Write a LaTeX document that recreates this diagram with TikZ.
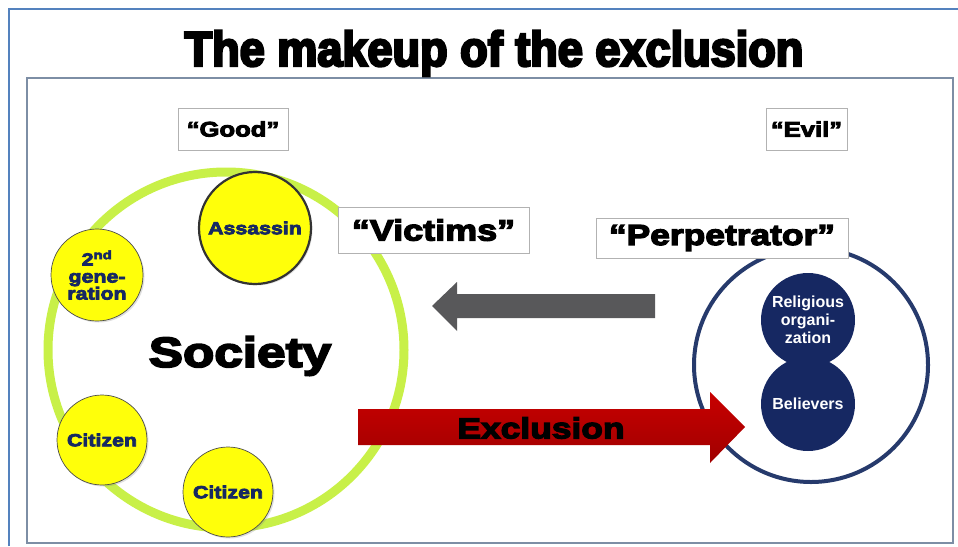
\documentclass[tikz,border=0pt]{standalone}
\usepackage{fontspec}
\setmainfont{Liberation Sans}
\newfontfamily\heavyfont[FakeBold=4.5,FakeStretch=1.22]{Liberation Sans Bold}
\newfontfamily\titlefont[FakeBold=5,FakeStretch=0.92]{Liberation Sans Bold}
\usepackage{tikz}
\usepackage{xcolor}
\usetikzlibrary{shadows}
\definecolor{ringgreen}{RGB}{200,240,72}
\definecolor{dotyellow}{RGB}{255,255,10}
\definecolor{dotnavy}{RGB}{22,40,98}
\definecolor{ringnavy}{RGB}{38,58,108}
\definecolor{framegray}{RGB}{125,142,165}
\definecolor{frameblue}{RGB}{84,130,190}
\definecolor{arrowgray}{RGB}{88,88,90}
\definecolor{arrowred}{RGB}{200,0,0}
\tikzset{
	labelbox/.style={
		draw=gray!60,
		fill=white,
		line width=0.8pt,
		inner sep=0pt,
		font=\heavyfont\fontsize{21}{21}\selectfont
	},
	yellowdot/.style={
		circle,
		fill=dotyellow,
		draw=black!70,
		line width=0.7pt,
		inner sep=0pt,
		align=center,
		text=dotnavy,
		drop shadow={opacity=0.25,shadow xshift=1.5pt,shadow yshift=-1.5pt},
		font=\heavyfont\fontsize{17.5}{17}\selectfont
	},
	navydot/.style={
		circle,
		fill=dotnavy,
		inner sep=0pt,
		minimum size=94,
		align=center,
		text=white,
		font=\bfseries\fontsize{16}{18}\selectfont
	}
}

\begin{document}
\begin{tikzpicture}[thick,x=1pt,y=-1pt]
	\useasboundingbox (0,0) rectangle (958,546);
	
	% frames
	\draw[frameblue,line width=2pt] (9,546) -- (9,9) -- (958,9);
	\draw[framegray,line width=1.6pt] (27,78) rectangle (953,543);
	\node[anchor=base] (title) at (494,66) {\titlefont\fontsize{49}{49}\selectfont The makeup of the exclusion};
	
	% (Society)
	\draw[ringgreen,line width=9pt] (226,350) circle (178);
	\node[yellowdot,minimum size=112,draw=black!80,line width=2.2pt] (assassin) at (255,228) {Assassin};
	\node[yellowdot,minimum size=92] (gen) at (97,275) {2\textsuperscript{nd}\\gene-\\ration};
	\node[yellowdot,minimum size=90] (citizenA) at (102,440) {Citizen};
	\node[yellowdot,minimum size=90] (citizenB) at (228,492) {Citizen};
	\node (society) at (240,356) {\heavyfont\fontsize{42}{42}\selectfont Society};
	
	% (Perpetrator)
	\draw[ringnavy,line width=4pt] (811,365) circle (117);
	\node[navydot] (religious) at (808,320) {Religious\\organi-\\zation};
	\node[navydot] (believers) at (808,404) {Believers};
	
	% labels
	\node[labelbox,minimum width=110,minimum height=42] (good) at (233,129) {“Good”};
	\node[labelbox,minimum width=81,minimum height=42] (evil) at (806.5,129) {“Evil”};
	\node[labelbox,minimum width=191,minimum height=46,font=\heavyfont\fontsize{29.5}{29}\selectfont] (victims) at (433.5,230) {“Victims”};
	\node[labelbox,minimum width=252,minimum height=40,font=\heavyfont\fontsize{29}{29}\selectfont] (perpetrator) at (722,238) {“Perpetrator”};
	
	% arrows
	\fill[arrowgray] (655,294) -- (457,294) -- (457,282) -- (432,306) -- (457,331) -- (457,318) -- (655,318) -- cycle;
	\shade[top color=arrowred,bottom color=arrowred!80!black] (358,409) -- (710,409) -- (710,392) -- (745,427) -- (710,463) -- (710,445) -- (358,445) -- cycle;
	\node (exclusion) at (541,428) {\heavyfont\fontsize{29}{29}\selectfont Exclusion};
\end{tikzpicture}
\end{document}
